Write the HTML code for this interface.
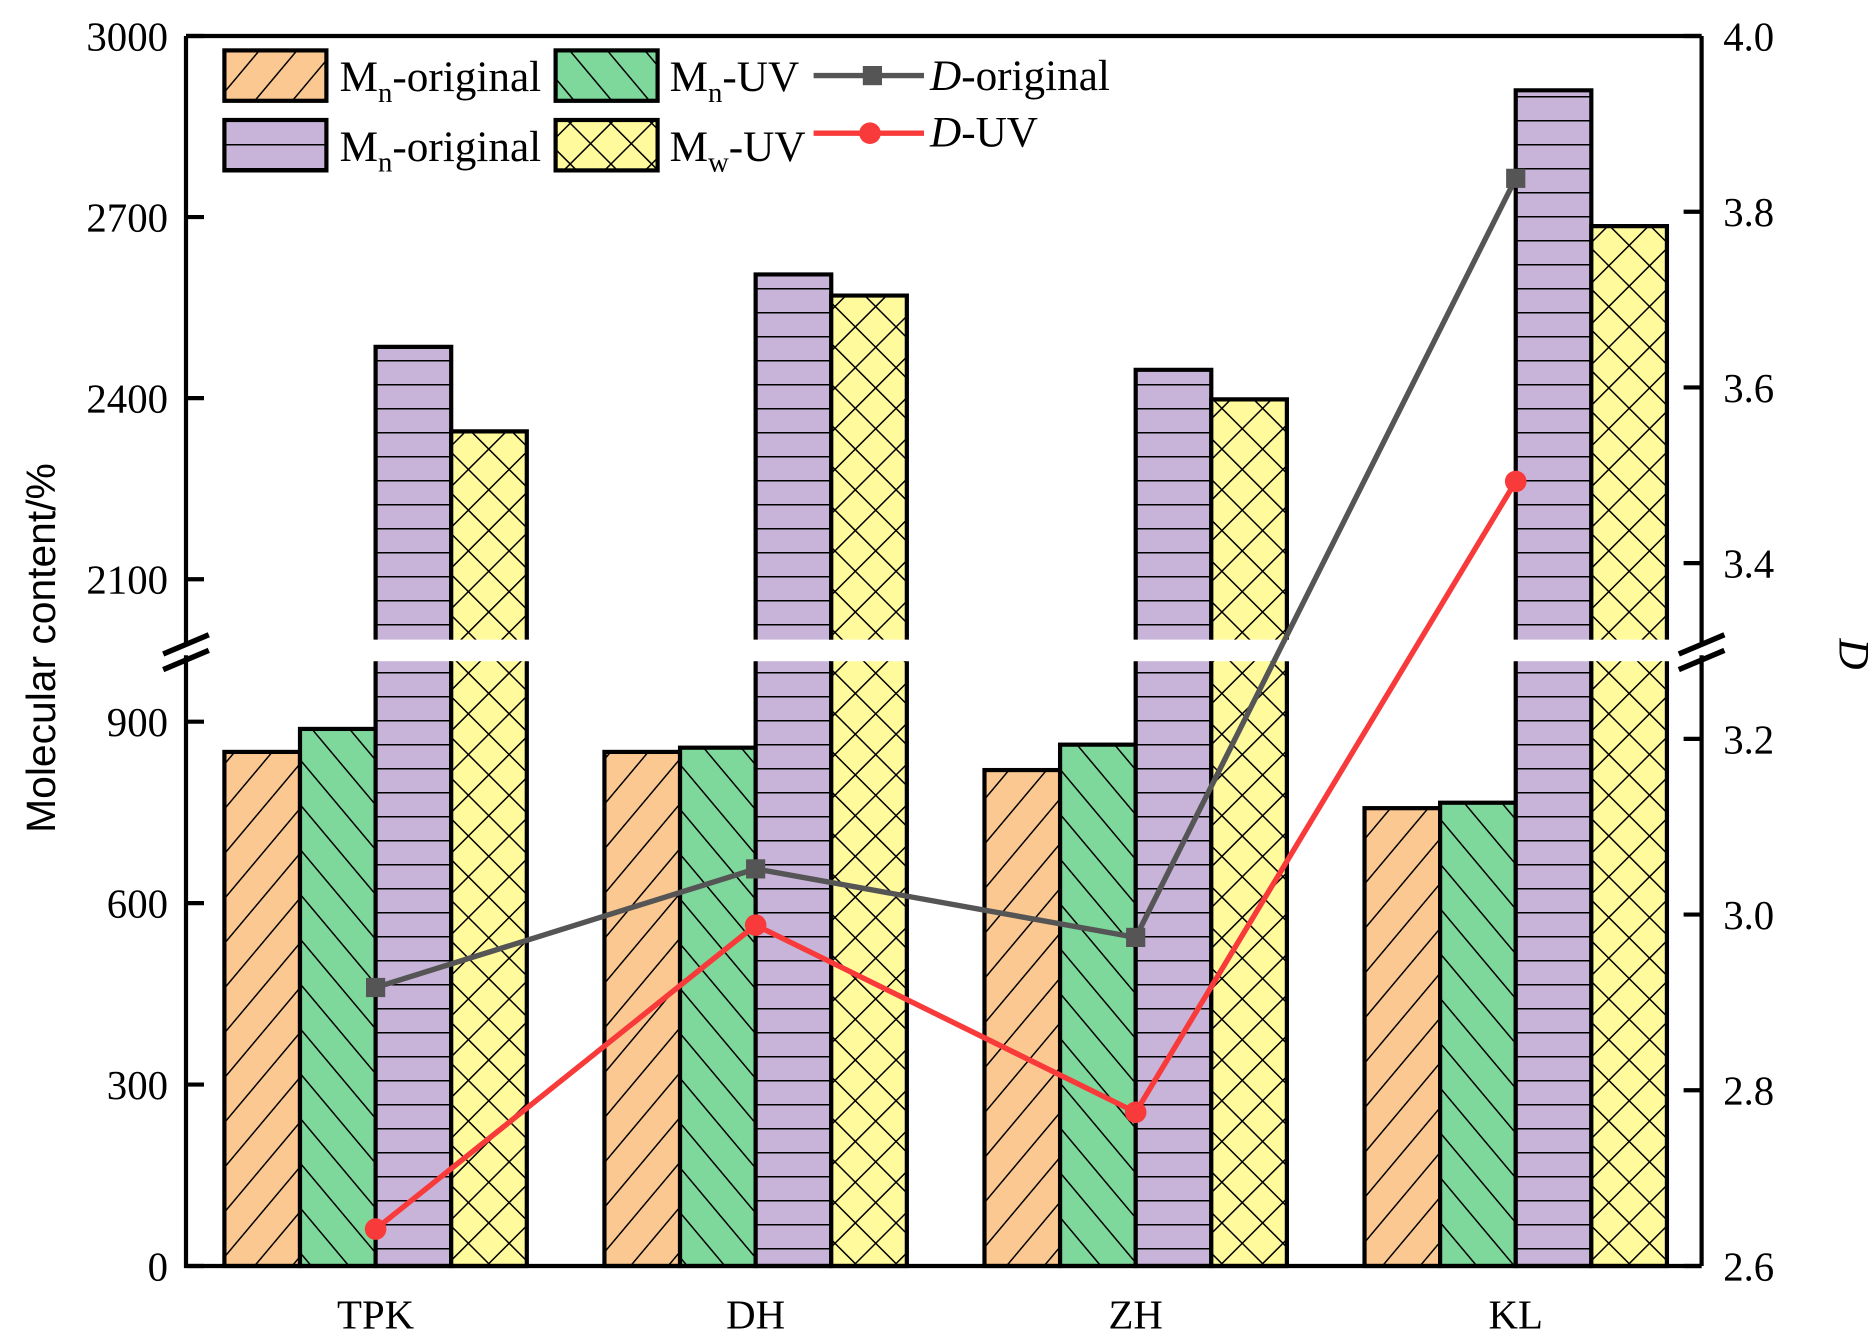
<!DOCTYPE html>
<html><head><meta charset="utf-8"><style>
html,body{margin:0;padding:0;background:#fff;}
svg{display:block;font-family:"Liberation Serif",serif;}
</style></head><body>
<svg id="chart" width="1875" height="1344" viewBox="0 0 1562.5 1120">
<defs>
<pattern id="pOr" patternUnits="userSpaceOnUse" width="24" height="24" patternTransform="rotate(40)"><rect width="24" height="24" fill="#FCC891"/><line x1="0" y1="0" x2="0" y2="24" stroke="#000" stroke-width="2.5"/></pattern>
<pattern id="pGr" patternUnits="userSpaceOnUse" width="24" height="24" patternTransform="rotate(-40)"><rect width="24" height="24" fill="#7ED79B"/><line x1="0" y1="0" x2="0" y2="24" stroke="#000" stroke-width="2.5"/></pattern>
<pattern id="pPu" patternUnits="userSpaceOnUse" width="20" height="20"><rect width="20" height="20" fill="#C8B4D8"/><line x1="0" y1="0" x2="20" y2="0" stroke="#000" stroke-width="2.5"/></pattern>
<pattern id="pYe" patternUnits="userSpaceOnUse" width="24" height="24" patternTransform="rotate(45)"><rect width="24" height="24" fill="#FFFA9C"/><line x1="0" y1="0" x2="0" y2="24" stroke="#000" stroke-width="2.5"/><line x1="0" y1="0" x2="24" y2="0" stroke="#000" stroke-width="2.5"/></pattern>
</defs>
<g id="bars"></g>
<g id="lines"></g>
<g id="axes"></g>
<g id="legend"></g>
</svg>
<script>
const categories = ["TPK","DH","ZH","KL"];
const mnOriginal = [850, 850, 820, 757];
const mnUV = [888, 857, 862, 766];
const mwOriginal = [2485, 2605, 2447, 2910];
const mwUV = [2345, 2570, 2398, 2685];
const dOriginal = [2.917, 3.052, 2.974, 3.838];
const dUV = [2.642, 2.988, 2.775, 3.493];
const leftTicksLow = [0, 300, 600, 900];
const leftTicksHigh = [2100, 2400, 2700, 3000];
const rightTicks = [2.6, 2.8, 3.0, 3.2, 3.4, 3.6, 3.8, 4.0];

const NS = "http://www.w3.org/2000/svg";
const X0 = 155, X1 = 1418, Y0 = 30, Y1 = 1055;
const BREAK_TOP = 533, BREAK_BOT = 551;
function yLeft(v){
  if (v <= 1000) return Y1 - v * (Y1 - BREAK_BOT) / 1000;
  return BREAK_TOP - (v - 2000) * (BREAK_TOP - Y0) / 1000;
}
function yRight(v){ return Y1 - (v - 2.6) * (Y1 - Y0) / 1.4; }
function xCenter(i){ return 313 + i * 316.7; }
const BW = 63;
const SW = 3.5;
function mk(tag, attrs, parent){
  const e = document.createElementNS(NS, tag);
  for (const k in attrs) e.setAttribute(k, attrs[k]);
  parent.appendChild(e); return e;
}
const gBars = document.getElementById("bars");
const gLines = document.getElementById("lines");
const gAxes = document.getElementById("axes");

const series = [[mnOriginal,"url(#pOr)","bar-mn-original"],[mnUV,"url(#pGr)","bar-mn-uv"],[mwOriginal,"url(#pPu)","bar-mw-original"],[mwUV,"url(#pYe)","bar-mw-uv"]];
categories.forEach((c, i) => {
  series.forEach((s, j) => {
    const v = s[0][i];
    const x = xCenter(i) - 2 * BW + j * BW;
    if (v <= 1000) {
      const r = mk("rect", {x: x, y: yLeft(v), width: BW, height: Y1 - yLeft(v), fill: s[1], stroke: "#000", "stroke-width": SW}, gBars);
      
      
    } else {
      const r1 = mk("rect", {x: x, y: BREAK_BOT, width: BW, height: Y1 - BREAK_BOT, fill: s[1]}, gBars);
      
      
      mk("path", {d: `M${x},${BREAK_BOT}V${Y1}H${x+BW}V${BREAK_BOT}`, fill: "none", stroke: "#000", "stroke-width": SW}, gBars);
      const r2 = mk("rect", {x: x, y: yLeft(v), width: BW, height: BREAK_TOP - yLeft(v), fill: s[1]}, gBars);
      
      
      mk("path", {d: `M${x},${BREAK_TOP}V${yLeft(v)}H${x+BW}V${BREAK_TOP}`, fill: "none", stroke: "#000", "stroke-width": SW}, gBars);
    }
  });
  const t = mk("text", {x: xCenter(i), y: 1107, "font-size": 34, "text-anchor": "middle"}, gAxes);
  t.textContent = c;
  
  
});

function drawLine(arr, color, marker, name){
  const pts = arr.map((v, i) => xCenter(i) + "," + yRight(v)).join(" ");
  const pl = mk("polyline", {points: pts, fill: "none", stroke: color, "stroke-width": 4.5}, gLines);
  
  
  arr.forEach((v, i) => {
    let m;
    if (marker === "sq") m = mk("rect", {x: xCenter(i) - 8, y: yRight(v) - 8, width: 16, height: 16, fill: color}, gLines);
    else m = mk("circle", {cx: xCenter(i), cy: yRight(v), r: 9, fill: color}, gLines);
    
    
  });
}
drawLine(dOriginal, "#555555", "sq", "d-original");
drawLine(dUV, "#F83A3A", "ci", "d-uv");

mk("path", {d: `M${X0},${Y0}H${X1}M${X0},${Y0}V${BREAK_TOP+5}M${X0},${BREAK_BOT-5}V${Y1}H${X1}M${X1},${Y0}V${BREAK_TOP+5}M${X1},${BREAK_BOT-5}V${Y1}`, fill: "none", stroke: "#000", "stroke-width": 3.5}, gAxes);
[X0, X1].forEach(x => {
  mk("path", {d: `M${x-19},${BREAK_TOP+12}L${x+19},${BREAK_TOP-4}M${x-19},${BREAK_BOT+7}L${x+19},${BREAK_BOT-9}`, stroke: "#000", "stroke-width": 4.5}, gAxes);
});
leftTicksLow.concat(leftTicksHigh).forEach(v => {
  const y = yLeft(v);
  mk("line", {x1: X0, x2: X0 + 15, y1: y, y2: y, stroke: "#000", "stroke-width": 3.5}, gAxes);
  const t = mk("text", {x: X0 - 15, y: y + 12, "font-size": 34, "text-anchor": "end"}, gAxes);
  t.textContent = v;
  
  
});
rightTicks.forEach(v => {
  const y = yRight(v);
  mk("line", {x1: X1 - 15, x2: X1, y1: y, y2: y, stroke: "#000", "stroke-width": 3.5}, gAxes);
  const t = mk("text", {x: X1 + 18, y: y + 12, "font-size": 34}, gAxes);
  t.textContent = v.toFixed(1);
  
  
});
</script>
<script>
(function(){
const g = document.getElementById("legend");
g.innerHTML = `
<g><text transform="translate(46,540) rotate(-90)" text-anchor="middle" font-family="Liberation Sans, sans-serif" font-size="34">Molecular content/%</text></g>
<g><text transform="translate(1533,545) rotate(90)" text-anchor="middle" font-style="italic" font-size="36">D</text></g>
<g><rect x="187" y="42" width="85" height="42" fill="url(#pOr)" stroke="#000" stroke-width="3.5"/><text x="283" y="76" font-size="36">M<tspan font-size="24" dy="9">n</tspan><tspan dy="-9">-original</tspan></text></g>
<g><rect x="463" y="42" width="85" height="42" fill="url(#pGr)" stroke="#000" stroke-width="3.5"/><text x="558" y="76" font-size="36">M<tspan font-size="24" dy="9">n</tspan><tspan dy="-9">-UV</tspan></text></g>
<g><rect x="187" y="100" width="85" height="42" fill="url(#pPu)" stroke="#000" stroke-width="3.5"/><text x="283" y="134" font-size="36">M<tspan font-size="24" dy="9">n</tspan><tspan dy="-9">-original</tspan></text></g>
<g><rect x="463" y="100" width="85" height="42" fill="url(#pYe)" stroke="#000" stroke-width="3.5"/><text x="558" y="134" font-size="36">M<tspan font-size="24" dy="9">w</tspan><tspan dy="-9">-UV</tspan></text></g>
<g><line x1="678" y1="63" x2="770" y2="63" stroke="#555" stroke-width="4.5"/><rect x="719" y="55" width="16" height="16" fill="#555"/><text x="775" y="75" font-size="36"><tspan font-style="italic">D</tspan>-original</text></g>
<g><line x1="678" y1="111" x2="770" y2="111" stroke="#F83A3A" stroke-width="4.5"/><circle cx="725" cy="111" r="9" fill="#F83A3A"/><text x="775" y="122" font-size="36"><tspan font-style="italic">D</tspan>-UV</text></g>`;
})();
</script>
</body></html>
